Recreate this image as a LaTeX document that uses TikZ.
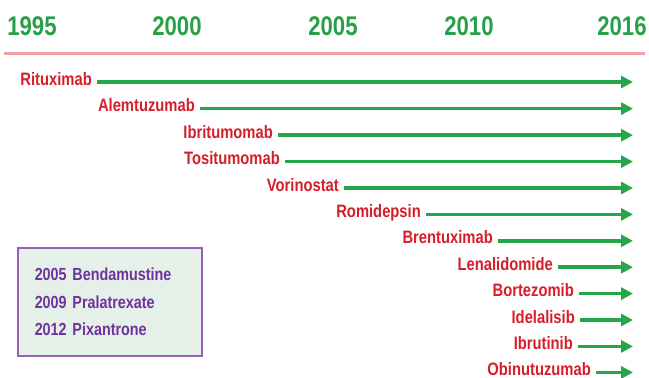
\documentclass[tikz,border=0pt]{standalone}
\usepackage{fontspec}
\usetikzlibrary{arrows.meta}
\newfontfamily\condfont{Liberation Sans}[FakeStretch=0.82]
\newcommand\legendfont{\condfont\bfseries\fontsize{17.5}{27.5}\selectfont\spaceskip 4pt\relax}

\definecolor{yeargreen}{RGB}{40,160,72}
\definecolor{arrgreen}{RGB}{38,166,72}
\definecolor{drugred}{RGB}{214,30,42}
\definecolor{axispink}{RGB}{240,160,160}
\definecolor{boxpurple}{RGB}{150,96,182}
\definecolor{boxtext}{RGB}{112,50,158}
\definecolor{boxfill}{RGB}{228,240,232}

\tikzset{
  yr/.style={font=\condfont\bfseries\fontsize{27}{27}\selectfont, text=yeargreen, anchor=base, inner sep=0pt},
  drug/.style={font=\condfont\bfseries\fontsize{18}{18}\selectfont, text=drugred, anchor=east,
    inner xsep=5pt, inner ysep=0pt, text height=10pt, text depth=4pt},
  arr/.style={draw=arrgreen, line width=3.5pt, -{Triangle[length=12pt,width=12pt]}},
}

\begin{document}
\begin{tikzpicture}[x=1pt,y=-1pt]

\useasboundingbox (0,0) rectangle (649,378);

% time axis
\node[yr] (y1995) at (32,35) {1995};
\node[yr] (y2000) at (177,35) {2000};
\node[yr] (y2005) at (333,35) {2005};
\node[yr] (y2010) at (469,35) {2010};
\node[yr] (y2016) at (622,35) {2016};
\draw[axispink, line width=3pt] (4,53) -- (645,53);

\coordinate (T) at (633,0);

% approvals still running in 2016
\node[drug] (rit) at (97,82) {Rituximab};
\node[drug] (alem) at (200,108.6) {Alemtuzumab};
\node[drug] (ibri) at (278,135.2) {Ibritumomab};
\node[drug] (tosi) at (285,161.6) {Tositumomab};
\node[drug] (vori) at (344,188) {Vorinostat};
\node[drug] (romi) at (426,214.4) {Romidepsin};
\node[drug] (bren) at (498,240.8) {Brentuximab};
\node[drug] (lena) at (558,267.2) {Lenalidomide};
\node[drug] (bort) at (579,293.6) {Bortezomib};
\node[drug] (idel) at (580,320) {Idelalisib};
\node[drug] (ibru) at (578,346.4) {Ibrutinib};
\node[drug] (obin) at (596,372.4) {Obinutuzumab};

\draw[arr] (rit.east) -- (rit.east -| T);
\draw[arr] (alem.east) -- (alem.east -| T);
\draw[arr] (ibri.east) -- (ibri.east -| T);
\draw[arr] (tosi.east) -- (tosi.east -| T);
\draw[arr] (vori.east) -- (vori.east -| T);
\draw[arr] (romi.east) -- (romi.east -| T);
\draw[arr] (bren.east) -- (bren.east -| T);
\draw[arr] (lena.east) -- (lena.east -| T);
\draw[arr] (bort.east) -- (bort.east -| T);
\draw[arr] (idel.east) -- (idel.east -| T);
\draw[arr] (ibru.east) -- (ibru.east -| T);
\draw[arr] (obin.east) -- (obin.east -| T);

% other approvals
\node[draw=boxpurple, line width=1.5pt, fill=boxfill, text=boxtext, anchor=north west,
  minimum width=184pt, minimum height=108pt, text width=150pt, inner xsep=17pt, align=left,
  font=\legendfont] (other) at (17,247)
  {2005 Bendamustine\\2009 Pralatrexate\\2012 Pixantrone};

\end{tikzpicture}
\end{document}
